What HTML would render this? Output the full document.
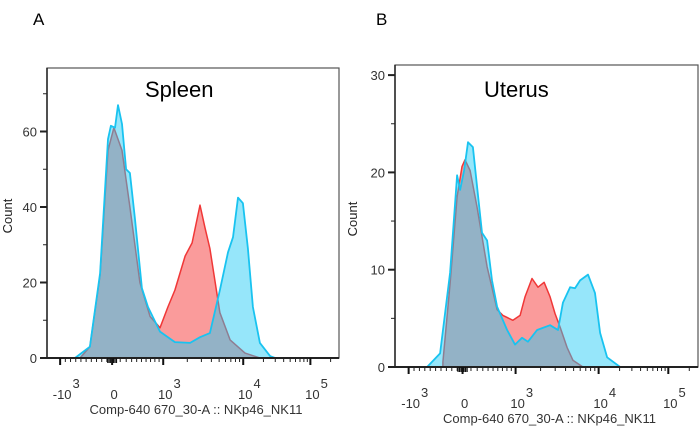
<!DOCTYPE html>
<html><head><meta charset="utf-8"><style>
body{margin:0;background:#fff;width:700px;height:439px;overflow:hidden;font-family:"Liberation Sans",sans-serif}
svg text{font-family:"Liberation Sans",sans-serif}
</style></head><body>
<svg id="chart" width="700" height="439" viewBox="0 0 700 439"></svg>
<script>
// Channel axis (logicle display units 0..100)
const xTickPos = [4.5, 22.3, 39.8, 67.2, 90.2];
const xTickBase = ["-10", "0", "10", "10", "10"];
const xTickExp = ["3", "", "3", "4", "5"];

// Spleen
const spleenRedX = [11.3,14.7,18.2,20.9,22.9,25.7,28.4,31.8,35.3,38.7,41.4,43.8,47.3,49.7,52.4,54.1,55.8,57.5,59.2,62.7,67.8,72.9];
const spleenRedY = [0,3,22,55,61,55,40,20,11,8,13.5,18,27,30.5,40.5,34.5,29,20.5,12,4.8,1.3,0];
const spleenBlueX = [9.6,14.7,18.2,20.9,21.9,23.3,24.3,25.7,27.1,28.4,30.1,32.5,34.6,38.7,43.8,49,52.4,55.8,59.2,62,63.7,65.4,67.1,68.8,70.5,72.9,76.4,78.1];
const spleenBlueY = [0,3,22.5,58,61.5,61,67,62,50,49,37,18.5,13.5,7,4.2,4,5.5,6.6,18,28,32,42.5,41,29,13.5,4,0.5,0];
const spleenYTicks = [0,20,40,60];

// Uterus
const uterusRedX = [15.8,18.2,20.5,22.1,23.1,24.8,27.1,30.4,33.7,35.6,38.9,41.3,42.9,45.2,47.2,49.2,51.2,52.8,54.5,56.8,58.7,62];
const uterusRedY = [0.5,8.6,17.5,20.6,21.3,20.2,16.4,10.3,5.9,5.3,4.8,5.3,7.2,9.1,8.2,8.7,7.2,5.5,4.1,2,0.7,0];
const uterusBlueX = [10.6,14.9,18.2,20.5,21.5,22.8,24.1,25.7,27.1,28.7,30.4,32,33.7,37,39.6,41.9,43.9,46.9,51.2,53.8,55.4,57.8,59.4,61.1,63.7,66,67.7,70,74.3];
const uterusBlueY = [0,1.4,9.7,19.7,18.2,20.2,23.1,22.6,18.5,13.8,13,8.9,6.2,3.8,2.3,3,2.6,3.8,4.3,3.8,6.6,8.2,8.1,8.9,9.5,7.6,3.5,1,0];
const uterusYTicks = [0,10,20,30];

const NS = "http://www.w3.org/2000/svg";
const svg = document.getElementById("chart");
function mk(tag, attrs, parent) {
  const e = document.createElementNS(NS, tag);
  for (const k in attrs) e.setAttribute(k, attrs[k]);
  (parent || svg).appendChild(e);
  return e;
}

function panel(cfg) {
  const g = mk("g", {});
  
  
  const L = cfg.left, R = cfg.right, T = cfg.top, B = cfg.bottom;
  const xs = c => L + c / 100 * (R - L);
  const ys = v => B - v * cfg.pxPerUnit;
  function area(X, Y) {
    let d = "M" + xs(X[0]).toFixed(1) + "," + B;
    for (let i = 0; i < X.length; i++) d += " L" + xs(X[i]).toFixed(1) + "," + ys(Y[i]).toFixed(1);
    d += " L" + xs(X[X.length - 1]).toFixed(1) + "," + B + " Z";
    return d;
  }
  const red = mk("path", {d: area(cfg.redX, cfg.redY), fill: "rgb(250,155,155)", stroke: "rgb(240,55,55)", "stroke-width": 1.5, "stroke-linejoin": "round"}, g);
  
  
  const blue = mk("path", {d: area(cfg.blueX, cfg.blueY), fill: "rgba(36,203,245,0.48)", stroke: "rgb(25,195,240)", "stroke-width": 1.8, "stroke-linejoin": "round"}, g);
  
  

  const frame = mk("rect", {x: L, y: T, width: R - L, height: B - T, fill: "none", stroke: "#555", "stroke-width": 1.2}, g);
  
  
  mk("line", {x1: L, y1: B, x2: R, y2: B, stroke: "#222", "stroke-width": 2}, g);
  mk("line", {x1: L, y1: T, x2: L, y2: B, stroke: "#222", "stroke-width": 1.5}, g);

  for (let v = 0; ys(v) >= T - 1; v += cfg.minorStep) {
    const y = ys(v);
    const major = cfg.yTicks.includes(v);
    mk("line", {x1: L - (major ? 7 : 4), y1: y, x2: L, y2: y, stroke: "#222", "stroke-width": major ? 2 : 1}, g);
  }
  cfg.yTicks.forEach(v => {
    const t = mk("text", {x: L - 10, y: ys(v) + 5, "text-anchor": "end", "font-size": 13, fill: "#333"}, g);
    t.textContent = v;
    
    
  });
  const yt = mk("text", {transform: `translate(${cfg.ylabX},${(T + B) / 2 + 3}) rotate(-90)`, "text-anchor": "middle", "font-size": 13, fill: "#222"}, g);
  yt.textContent = "Count";
  
  

  const minors = [];
  for (let k = 1; k <= 9; k++) minors.push(xTickPos[0] + (xTickPos[1] - xTickPos[0]) * k / 10);
  for (let k = 1; k <= 9; k++) minors.push(xTickPos[1] + (xTickPos[2] - xTickPos[1]) * Math.pow(k / 10, 0.8));
  for (let d = 2; d < 4; d++) for (let k = 2; k <= 9; k++) minors.push(xTickPos[d] + (xTickPos[d + 1] - xTickPos[d]) * Math.log10(k));
  for (let k = 2; k <= 4; k++) minors.push(xTickPos[4] + (xTickPos[4] - xTickPos[3]) * Math.log10(k));
  minors.forEach(c => { if (c < 100) mk("line", {x1: xs(c), y1: B, x2: xs(c), y2: B + 4, stroke: "#222", "stroke-width": 1}, g); });
  for (let c = xTickPos[1] - 1.5; c <= xTickPos[1] + 1.6; c += 0.5) mk("line", {x1: xs(c), y1: B, x2: xs(c), y2: B + 5, stroke: "#111", "stroke-width": 1.2}, g);
  xTickPos.forEach((c, i) => {
    mk("line", {x1: xs(c), y1: B, x2: xs(c), y2: B + 7, stroke: "#111", "stroke-width": 2}, g);
    const cx = xs(c) + 2;
    const t = mk("text", {x: cx, y: B + 41, "text-anchor": "middle", "font-size": 13, fill: "#333"}, g);
    t.textContent = xTickBase[i];
    
    
    if (xTickExp[i]) {
      const w = t.getComputedTextLength();
      const e = mk("text", {x: cx + w / 2 + 1, y: B + 30, "font-size": 13, fill: "#333"}, g);
      e.textContent = xTickExp[i];
      
      
    }
  });
  const xt = mk("text", {x: (L + R) / 2 + 3, y: B + 56, "text-anchor": "middle", "font-size": 13, fill: "#333"}, g);
  xt.textContent = "Comp-640 670_30-A :: NKp46_NK11";
  
  

  const ti = mk("text", {x: cfg.titleX, y: 97, "font-size": 22, fill: "#000"}, g);
  ti.textContent = cfg.title;
  
  
  const lt = mk("text", {x: cfg.letterX, y: 25, "font-size": 17, fill: "#000"}, g);
  lt.textContent = cfg.letter;
  
  
}

panel({name: "spleen", left: 47, right: 339, top: 68, bottom: 358, pxPerUnit: 3.775, minorStep: 10,
  redX: spleenRedX, redY: spleenRedY, blueX: spleenBlueX, blueY: spleenBlueY, yTicks: spleenYTicks,
  ylabX: 12, titleX: 145, title: "Spleen", letterX: 33, letter: "A"});
panel({name: "uterus", left: 395, right: 698, top: 65, bottom: 367, pxPerUnit: 9.73, minorStep: 5,
  redX: uterusRedX, redY: uterusRedY, blueX: uterusBlueX, blueY: uterusBlueY, yTicks: uterusYTicks,
  ylabX: 357, titleX: 484, title: "Uterus", letterX: 376, letter: "B"});
</script>
</body></html>
